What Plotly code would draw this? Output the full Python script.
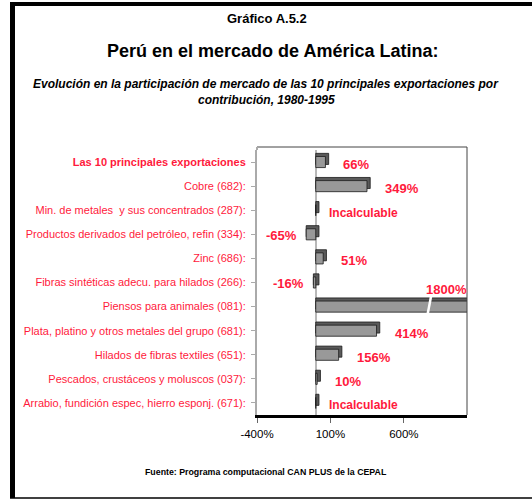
import plotly.graph_objects as go

categories = [
    "<b>Las 10 principales exportaciones</b>",
    "Cobre (682):",
    "Min. de metales  y sus concentrados (287):",
    "Productos derivados del petróleo, refin (334):",
    "Zinc (686):",
    "Fibras sintéticas adecu. para hilados (266):",
    "Piensos para animales (081):",
    "Plata, platino y otros metales del grupo (681):",
    "Hilados de fibras textiles (651):",
    "Pescados, crustáceos y moluscos (037):",
    "Arrabio, fundición espec, hierro esponj. (671):",
]
values = [66, 349, None, -65, 51, -16, 1800, 414, 156, 10, None]
x_tickvals = [-400, 100, 600]
x_ticktext = ["-400%", "100%", "600%"]
x_range = [-400, 1030]

RED = "#ff1a3c"
FONT = "Liberation Sans, Arial"
W, H = 532, 499
L, R, T, B = 257, 467, 150, 415


def px(xp):
    return (xp - L) / (R - L)


def py(yp):
    return (B - yp) / (B - T)


vals = [v if v is not None else 0 for v in values]
labels = [f"{v}%" if v is not None else "Incalculable" for v in values]
n = len(categories)
idx = list(range(n))

bw = 0.46
dy = 0.13
dx = 22  # depth in data units

fig = go.Figure()
# back (depth) faces
fig.add_trace(go.Bar(
    y=idx, x=[abs(v) + dx for v in vals], base=[min(v, 0) for v in vals],
    orientation="h", width=bw, offset=-bw / 2 - dy,
    marker=dict(color="#5a5a5a", line=dict(color="#1a1a1a", width=0.8)),
    hoverinfo="skip", showlegend=False,
))
# front faces
fig.add_trace(go.Bar(
    y=idx, x=vals, base=[0] * n,
    orientation="h", width=bw, offset=-bw / 2,
    marker=dict(color="#999999", line=dict(color="#1a1a1a", width=0.8)),
    showlegend=False,
))

VFONT = dict(family=FONT, size=13, color=RED)
annotations = []
for i, (v, lab) in enumerate(zip(vals, labels)):
    if v > x_range[1]:
        annotations.append(dict(x=x_range[1], y=i - 0.7, xref="x", yref="y",
                                text=f"<b>{lab}</b>", showarrow=False,
                                xanchor="right", yanchor="middle", xshift=2,
                                font=VFONT))
    elif v < 0:
        annotations.append(dict(x=v, y=i + 0.05, xref="x", yref="y",
                                text=f"<b>{lab}</b>", showarrow=False,
                                xanchor="right", yanchor="middle", xshift=-7,
                                font=VFONT))
    else:
        shift = 11 if values[i] is None else 16
        annotations.append(dict(x=v, y=i + 0.1, xref="x", yref="y",
                                text=f"<b>{lab}</b>", showarrow=False,
                                xanchor="left", yanchor="middle", xshift=shift,
                                font=dict(family=FONT, size=12 if values[i] is None else 13, color=RED)))

# titles
annotations += [
    dict(x=px(267), y=py(18), xref="paper", yref="paper", showarrow=False,
         xanchor="center", yanchor="middle",
         text="<b>Gráfico A.5.2</b>", font=dict(family=FONT, size=13, color="black")),
    dict(x=px(272), y=py(51), xref="paper", yref="paper", showarrow=False,
         xanchor="center", yanchor="middle",
         text="<b>Perú en el mercado de América Latina:</b>",
         font=dict(family=FONT, size=18, color="black")),
    dict(x=px(266), y=py(84), xref="paper", yref="paper", showarrow=False,
         xanchor="center", yanchor="middle",
         text="<b><i>Evolución en la participación de mercado de las 10 principales exportaciones por</i></b>",
         font=dict(family=FONT, size=12, color="black")),
    dict(x=px(266), y=py(100), xref="paper", yref="paper", showarrow=False,
         xanchor="center", yanchor="middle",
         text="<b><i>contribución, 1980-1995</i></b>",
         font=dict(family=FONT, size=12, color="black")),
    dict(x=px(266), y=py(472), xref="paper", yref="paper", showarrow=False,
         xanchor="center", yanchor="middle",
         text="<b>Fuente: Programa computacional CAN PLUS de la CEPAL</b>",
         font=dict(family=FONT, size=8.8, color="black")),
]

# break mark on the truncated bar
shapes = []
for i, v in enumerate(vals):
    if v > x_range[1]:
        xb = x_range[0] + 0.82 * (x_range[1] - x_range[0])
        shapes.append(dict(type="line", xref="x", yref="y",
                           x0=xb - 15, y0=i + 0.45, x1=xb + 15, y1=i - 0.5,
                           line=dict(color="white", width=2.5)))

shapes += [
    # plot frame top / right
    dict(type="line", xref="paper", yref="paper", x0=0, y0=py(147), x1=1, y1=py(147),
         line=dict(color="#444444", width=1)),
    dict(type="line", xref="paper", yref="paper", x0=1, y0=0, x1=1, y1=py(147),
         line=dict(color="#444444", width=1)),
    dict(type="line", xref="paper", yref="paper", x0=0, y0=1, x1=0, y1=py(147),
         line=dict(color="#aaaaaa", width=2)),
    # outer frame
    dict(type="rect", xref="paper", yref="paper", x0=px(10), x1=px(15), y0=py(498), y1=py(2),
         fillcolor="black", line=dict(width=0)),
    dict(type="rect", xref="paper", yref="paper", x0=px(10), x1=px(532), y0=py(6), y1=py(2),
         fillcolor="black", line=dict(width=0)),
    dict(type="line", xref="paper", yref="paper", x0=px(10), x1=px(532), y0=py(498), y1=py(498),
         line=dict(color="black", width=1.5)),
]

fig.update_layout(
    width=W, height=H,
    margin=dict(l=L, r=W - R, t=T, b=H - B, pad=0),
    paper_bgcolor="white", plot_bgcolor="white",
    barmode="overlay",
    font=dict(family=FONT, color="black"),
    annotations=annotations, shapes=shapes,
    xaxis=dict(range=x_range, tickvals=x_tickvals, ticktext=x_ticktext,
               showgrid=False, zeroline=True, zerolinecolor="#b8b8b8", zerolinewidth=2,
               showline=True, linecolor="black", linewidth=2.5,
               ticks="outside", ticklen=5, tickcolor="#666666",
               ticklabelstandoff=1,
               tickfont=dict(family=FONT, size=11.5, color="black"),
               layer="below traces"),
    yaxis=dict(tickvals=idx, ticktext=categories, autorange="reversed",
               showgrid=False, zeroline=False,
               showline=True, linecolor="#aaaaaa", linewidth=2,
               ticks="outside", ticklen=4, tickcolor="#aaaaaa",
               ticklabelstandoff=3,
               tickfont=dict(family=FONT, size=11, color=RED)),
)

fig.write_html("out.html")
